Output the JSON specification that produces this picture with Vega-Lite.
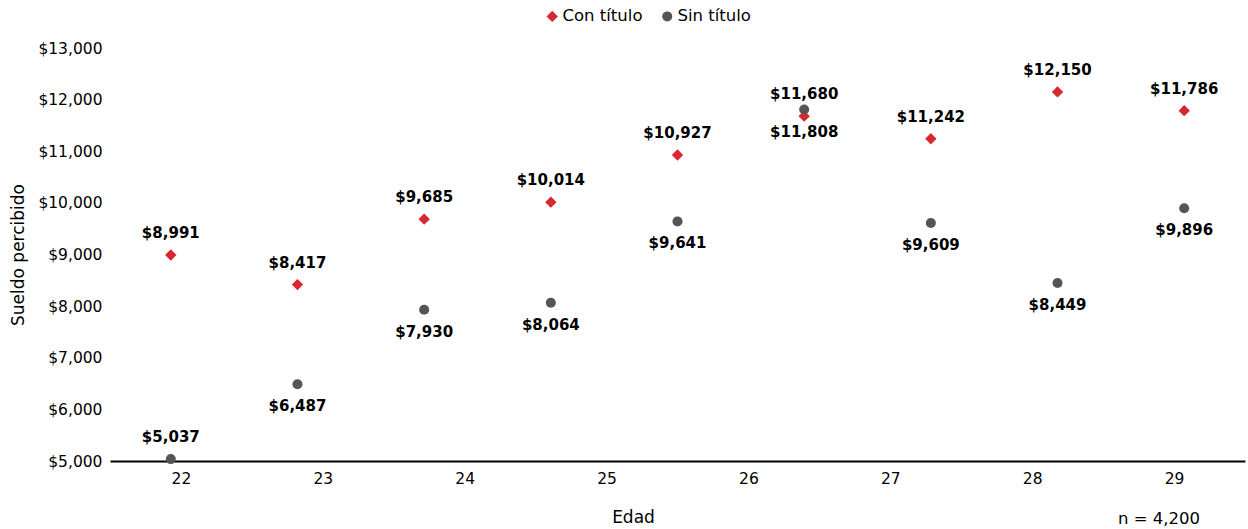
{
  "$schema": "https://vega.github.io/schema/vega-lite/v6.json",
  "width": 1135,
  "height": 413,
  "autosize": "none",
  "padding": {"left": 110, "top": 48, "right": 3, "bottom": 68},
  "config": {"font": "DejaVu Sans", "view": {"stroke": null}, "axis": {"grid": false}},
  "title": {"text": "n = 4,200", "orient": "bottom", "anchor": "end", "frame": "group", "fontSize": 16.5, "fontWeight": "normal", "color": "#000000", "dx": -45, "offset": -15},
  "datasets": {
    "sueldos": [
      {"orden": 1, "serie": "Con título", "sueldo": 8991},
      {"orden": 2, "serie": "Con título", "sueldo": 8417},
      {"orden": 3, "serie": "Con título", "sueldo": 9685},
      {"orden": 4, "serie": "Con título", "sueldo": 10014},
      {"orden": 5, "serie": "Con título", "sueldo": 10927},
      {"orden": 6, "serie": "Con título", "sueldo": 11680},
      {"orden": 7, "serie": "Con título", "sueldo": 11242},
      {"orden": 8, "serie": "Con título", "sueldo": 12150},
      {"orden": 9, "serie": "Con título", "sueldo": 11786},
      {"orden": 1, "serie": "Sin título", "sueldo": 5037},
      {"orden": 2, "serie": "Sin título", "sueldo": 6487},
      {"orden": 3, "serie": "Sin título", "sueldo": 7930},
      {"orden": 4, "serie": "Sin título", "sueldo": 8064},
      {"orden": 5, "serie": "Sin título", "sueldo": 9641},
      {"orden": 6, "serie": "Sin título", "sueldo": 11808},
      {"orden": 7, "serie": "Sin título", "sueldo": 9609},
      {"orden": 8, "serie": "Sin título", "sueldo": 8449},
      {"orden": 9, "serie": "Sin título", "sueldo": 9896}
    ],
    "edades": [
      {"Edad": 22}, {"Edad": 23}, {"Edad": 24}, {"Edad": 25},
      {"Edad": 26}, {"Edad": 27}, {"Edad": 28}, {"Edad": 29}
    ]
  },
  "resolve": {"scale": {"x": "independent"}, "axis": {"x": "independent"}},
  "layer": [
    {
      "data": {"name": "edades"},
      "mark": {"type": "point", "opacity": 0},
      "encoding": {
        "x": {
          "field": "Edad", "type": "ordinal",
          "scale": {"type": "point", "padding": 0.5},
          "axis": {
            "title": "Edad", "titleFontSize": 17, "titleFontWeight": "normal", "titleColor": "#000000", "titlePadding": 23, "titleX": 523,
            "labelAngle": 0, "labelFontSize": 15.5, "labelColor": "#000000", "labelPadding": 10,
            "ticks": false, "domain": true, "domainColor": "#000000", "domainWidth": 2
          }
        }
      }
    },
    {
      "data": {"name": "sueldos"},
      "encoding": {
        "x": {"field": "orden", "type": "ordinal", "scale": {"type": "point", "padding": 0.48}, "axis": null},
        "y": {
          "field": "sueldo", "type": "quantitative",
          "scale": {"domain": [5000, 13000], "nice": false, "zero": false},
          "axis": {
            "title": "Sueldo percibido", "titleFontSize": 17, "titleFontWeight": "normal", "titleColor": "#000000", "titlePadding": 10,
            "values": [5000, 6000, 7000, 8000, 9000, 10000, 11000, 12000, 13000],
            "format": "$,.0f", "labelFontSize": 15.5, "labelColor": "#000000", "labelPadding": 8,
            "ticks": false, "domain": false
          }
        }
      },
      "layer": [
        {
          "mark": {"type": "point", "filled": true, "opacity": 1},
          "encoding": {
            "color": {
              "field": "serie", "type": "nominal",
              "scale": {"domain": ["Con título", "Sin título"], "range": ["#D7282F", "#555555"]},
              "legend": {"orient": "none", "legendX": 434, "legendY": -40, "direction": "horizontal", "title": null, "labelFontSize": 16.5, "labelColor": "#000000", "symbolSize": 50, "columnPadding": 16, "labelOffset": 2}
            },
            "shape": {
              "field": "serie", "type": "nominal",
              "scale": {"domain": ["Con título", "Sin título"], "range": ["diamond", "circle"]},
              "legend": {"orient": "none", "legendX": 434, "legendY": -40, "direction": "horizontal", "title": null, "labelFontSize": 16.5, "labelColor": "#000000", "symbolSize": 50, "columnPadding": 16, "labelOffset": 2}
            },
            "size": {
              "field": "serie", "type": "nominal",
              "scale": {"domain": ["Con título", "Sin título"], "range": [130, 100]},
              "legend": null
            }
          }
        },
        {
          "transform": [{"filter": "datum.serie === 'Con título' || datum.sueldo < 5500"}],
          "mark": {"type": "text", "fontWeight": "bold", "fontSize": 15, "color": "#000000", "baseline": "middle", "dy": -22},
          "encoding": {"text": {"field": "sueldo", "type": "quantitative", "format": "$,.0f"}}
        },
        {
          "transform": [{"filter": "datum.serie === 'Sin título' && datum.sueldo >= 5500"}],
          "mark": {"type": "text", "fontWeight": "bold", "fontSize": 15, "color": "#000000", "baseline": "middle", "dy": 22},
          "encoding": {"text": {"field": "sueldo", "type": "quantitative", "format": "$,.0f"}}
        }
      ]
    }
  ]
}
